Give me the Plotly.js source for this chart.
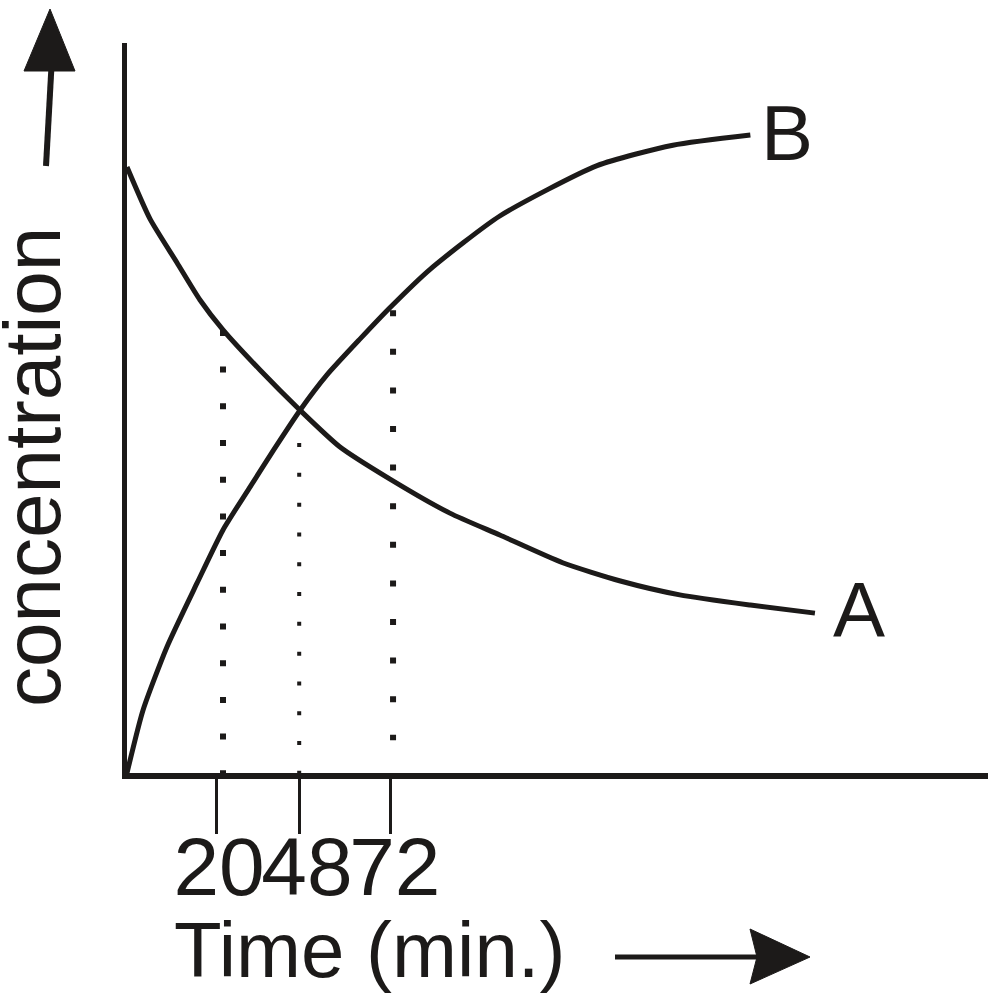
<!DOCTYPE html>
<html>
<head>
<meta charset="utf-8">
<script src="https://cdn.plot.ly/plotly-3.0.1.min.js"></script>
<style>
  html, body { margin: 0; padding: 0; background: #ffffff; }
  #chart { width: 995px; height: 1005px; }
</style>
</head>
<body>
<div id="chart"></div>
<script>
// ---- data (schematic units: x 0..100 across the time axis, y 0..100 up the concentration axis)
const timeA = [0, 2.67, 5.81, 8.48, 11.15, 15.45, 20.1, 24.7, 30.5, 37.5, 43.3, 50.6, 57.3, 64.2, 72.4, 79.9];
const concA = [83.0, 75.9, 69.9, 64.8, 60.7, 55.2, 49.7, 44.7, 40.3, 35.6, 32.6, 28.8, 26.3, 24.4, 23.0, 21.9];

const timeB = [0, 1.86, 4.65, 8.13, 11.15, 14.3, 17.0, 20.1, 23.2, 27.1, 30.5, 35.2, 43.3, 54.6, 63.4, 72.4];
const concB = [0, 8.6, 17.3, 26.0, 33.3, 39.2, 44.2, 49.7, 54.5, 59.5, 63.7, 69.0, 76.3, 83.2, 86.0, 87.4];

// dotted guide lines: x position, top and bottom concentration
const guideX = [11.15, 20.0, 30.9];
const guideTop = [60.7, 45.2, 63.4];
const guideBottom = [0, 0, 4.5];

// tick marks and tick labels
const tickPositions = [10.45, 19.98, 30.55];
const tickLabelPositions = [10.69, 20.9, 31.1];
const tickLabels = ['20', '48', '72'];

const seriesLabels = ['A', 'B'];
const xTitle = 'Time (min.)';
const yTitle = 'concentration';

// ---- drawing
const INK = '#1c1a19';
const FONT = 'Liberation Sans, Arial, sans-serif';
const W = 995, H = 1005;
const L = 127, R = 7, T = 43, B = 232;
const PW = W - L - R, PH = H - T - B;
const px = v => (v - L) / PW;        // pixel x -> paper
const py = v => (H - B - v) / PH;    // pixel y -> paper

const guideStyles = [
  {width: 6, dash: '6px,30.7px'},
  {width: 4, dash: '4px,25.8px'},
  {width: 6, dash: '6px,32.6px'}
];

const traces = [
  {x: timeA, y: concA, mode: 'lines', line: {color: INK, width: 5, shape: 'spline', smoothing: 0.6}, hoverinfo: 'skip', showlegend: false},
  {x: timeB, y: concB, mode: 'lines', line: {color: INK, width: 5, shape: 'spline', smoothing: 0.6}, hoverinfo: 'skip', showlegend: false}
];
guideX.forEach((gx, i) => {
  traces.push({
    x: [gx, gx], y: [guideTop[i], guideBottom[i]],
    xaxis: i === 0 ? 'x2' : 'x',
    mode: 'lines', line: {color: INK, width: guideStyles[i].width, dash: guideStyles[i].dash},
    hoverinfo: 'skip', showlegend: false
  });
});

const layout = {
  width: W, height: H,
  margin: {l: L, r: R, t: T, b: B, pad: 0},
  paper_bgcolor: '#ffffff', plot_bgcolor: '#ffffff',
  showlegend: false,
  font: {family: FONT, color: INK},
  xaxis: {
    range: [0, 100], showgrid: false, zeroline: false,
    showline: true, linecolor: INK, linewidth: 5.5,
    tickmode: 'array', tickvals: tickPositions, ticktext: ['', '', ''],
    ticks: 'outside', ticklen: 55, tickwidth: 3, tickcolor: INK,
    fixedrange: true
  },
  xaxis2: {
    range: [0, 100], overlaying: 'x', side: 'bottom', showgrid: false, zeroline: false,
    showline: false,
    tickmode: 'array', tickvals: tickLabelPositions, ticktext: tickLabels,
    tickangle: 0,
    ticks: 'outside', ticklen: 23, tickcolor: 'rgba(0,0,0,0)',
    tickfont: {family: FONT, size: 82, color: INK},
    fixedrange: true
  },
  yaxis: {
    range: [0, 100], showgrid: false, zeroline: false,
    showline: true, linecolor: INK, linewidth: 5.5,
    showticklabels: false, ticks: '',
    fixedrange: true
  },
  annotations: [
    {xref: 'paper', yref: 'paper', x: px(859), y: py(610), text: seriesLabels[0], showarrow: false,
     xanchor: 'center', yanchor: 'middle', font: {family: FONT, size: 78, color: INK}},
    {xref: 'paper', yref: 'paper', x: px(787), y: py(133), text: seriesLabels[1], showarrow: false,
     xanchor: 'center', yanchor: 'middle', font: {family: FONT, size: 78, color: INK}},
    {xref: 'paper', yref: 'paper', x: px(172), y: py(950), text: xTitle, showarrow: false,
     xanchor: 'left', yanchor: 'middle', font: {family: FONT, size: 78, color: INK}},
    {xref: 'paper', yref: 'paper', x: px(32), y: py(467), text: yTitle, showarrow: false, textangle: -90,
     height: 68, valign: 'middle', borderpad: 0,
     xanchor: 'center', yanchor: 'middle', font: {family: FONT, size: 80, color: INK}}
  ],
  shapes: [
    // upward arrow beside the concentration axis
    {type: 'line', xref: 'paper', yref: 'paper', x0: px(51.5), y0: py(66), x1: px(46), y1: py(166),
     line: {color: INK, width: 6}},
    {type: 'path', xref: 'paper', yref: 'paper',
     path: `M ${px(50)} ${py(9)} L ${px(75)} ${py(71)} L ${px(24)} ${py(71)} Z`,
     fillcolor: INK, line: {color: INK, width: 1}},
    // rightward arrow beside the time label
    {type: 'line', xref: 'paper', yref: 'paper', x0: px(615), y0: py(957), x1: px(760), y1: py(957),
     line: {color: INK, width: 5}},
    {type: 'path', xref: 'paper', yref: 'paper',
     path: `M ${px(810)} ${py(957)} L ${px(750)} ${py(984)} L ${px(757)} ${py(957)} L ${px(750)} ${py(929)} Z`,
     fillcolor: INK, line: {color: INK, width: 1}}
  ]
};

Plotly.newPlot('chart', traces, layout, {displayModeBar: false, staticPlot: true});
</script>
</body>
</html>
